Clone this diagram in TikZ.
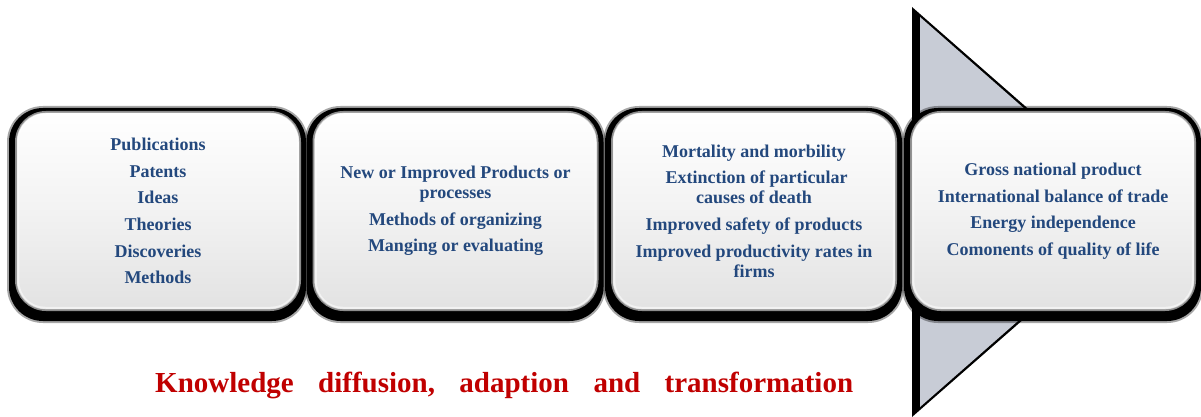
\documentclass[tikz,border=0pt]{standalone}
\usepackage{fontspec}
\setmainfont{Liberation Serif}
\usetikzlibrary{calc,backgrounds}
\definecolor{itemblue}{RGB}{35,72,125}
\definecolor{capred}{RGB}{192,0,0}
\definecolor{arrowgray}{RGB}{200,204,214}
% white at the top, fading to a light gray towards the bottom
\pgfdeclareverticalshading{stagefill}{100bp}{color(0bp)=(black!14); color(22bp)=(black!12);
  color(50bp)=(black!5); color(75bp)=(white); color(100bp)=(white)}
\pgfdeclarelayer{arrowlayer}
\pgfdeclarelayer{shadowlayer}
\pgfsetlayers{arrowlayer,shadowlayer,main}
\tikzset{
  stagebox/.style={rounded corners=30pt, minimum width=284pt, minimum height=198pt,
    inner sep=0pt, align=center, shading=stagefill,
    draw=black!45, line width=2pt, text=itemblue,
    font=\fontsize{18}{20}\selectfont\bfseries},
  caption/.style={anchor=base west, inner sep=0pt, text=capred,
    font=\fontsize{29}{29}\selectfont\bfseries},
}
\newcommand{\boxshadow}[1]{%
  \fill[black, opacity=0.35, rounded corners=36pt]
    ($(#1.south west)+(-8,12)$) rectangle ($(#1.north east)+(7,-5)$);
  \fill[black, rounded corners=34pt]
    ($(#1.south west)+(-6,10)$) rectangle ($(#1.north east)+(5,-3)$);}
\newcommand{\boxrim}[1]{%
  \draw[white, opacity=0.55, line width=2.5pt, rounded corners=27pt]
    ($(#1.south west)+(3,-3)$) rectangle ($(#1.north east)+(-3,3)$);}
\begin{document}
\begin{tikzpicture}[x=1pt,y=-1pt]
\useasboundingbox (0,0) rectangle (1201,417);

% the four stages
\node[stagebox] (s1) at (158,211) {Publications\\[6.6pt]Patents\\[6.6pt]Ideas\\[6.6pt]Theories\\[6.6pt]Discoveries\\[6.6pt]Methods};
\node[stagebox] (s2) at (455.5,211) {New or Improved Products or\\processes\\[6.6pt]Methods of organizing\\[6.6pt]Manging or evaluating};
\node[stagebox] (s3) at (754,211) {Mortality and morbility\\[6.6pt]\hspace*{5pt}Extinction of particular\\causes of death\\[6.6pt]Improved safety of products\\[6.6pt]Improved productivity rates in\\firms};
\node[stagebox] (s4) at (1053,211) {Gross national product\\[6.6pt]International balance of trade\\[6.6pt]Energy independence\\[6.6pt]Comonents of quality of life};

% soft bevel just inside each outline
\boxrim{s1}\boxrim{s2}\boxrim{s3}\boxrim{s4}

% drop shadows behind the stages
\begin{pgfonlayer}{shadowlayer}
  \boxshadow{s1}\boxshadow{s2}\boxshadow{s3}\boxshadow{s4}
\end{pgfonlayer}

% large arrow head pointing right behind the last stage
\begin{pgfonlayer}{arrowlayer}
  \coordinate (atop) at (912,7);
  \coordinate (atip) at (1146,212);
  \coordinate (abot) at (912,417);
  \fill[black] (atop) -- (atip) -- (abot) -- cycle;
  \fill[arrowgray] ($(atop)+(8,10)$) -- ($(atip)+(-4,0)$) -- ($(abot)+(8,-10)$) -- cycle;
\end{pgfonlayer}

% caption below the stages
\node[caption] (cap) at (155,392) {\hbox to 698pt{Knowledge\hfill diffusion,\hfill adaption\hfill and\hfill transformation}};
\end{tikzpicture}
\end{document}
